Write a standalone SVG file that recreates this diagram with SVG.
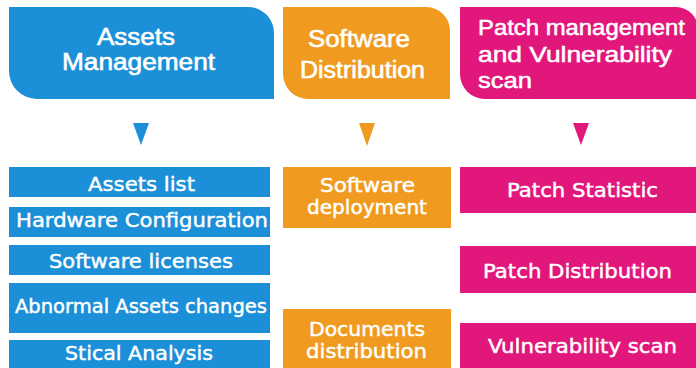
<svg xmlns="http://www.w3.org/2000/svg" width="696" height="368" viewBox="0 0 696 368">
<style>
.blue{fill:#1b8fd7}
.orange{fill:#f09b20}
.pink{fill:#e1177b}
.h{font-family:"Liberation Sans",Arial,sans-serif;fill:#ffffff;stroke:#ffffff;stroke-width:0.6px;font-size:23.5px}
.hp{font-family:"Liberation Sans",Arial,sans-serif;fill:#ffffff;stroke:#ffffff;stroke-width:0.5px;font-size:21.5px}
.b{font-family:"DejaVu Sans",Verdana,sans-serif;fill:#ffffff;stroke:#ffffff;stroke-width:0.45px;font-size:20px;text-anchor:middle}
</style>
<rect width="696" height="368" fill="#ffffff"/>
<g id="assets-management">
<path class="blue" d="M9 7 H248 A26 26 0 0 1 274 33 V99 H37 A28 28 0 0 1 9 71 Z"/>
<text class="h" x="136" y="45" text-anchor="middle" textLength="78" lengthAdjust="spacingAndGlyphs">Assets</text>
<text class="h" x="138.5" y="70" text-anchor="middle" textLength="153" lengthAdjust="spacingAndGlyphs">Management</text>
</g>
<g id="software-distribution">
<path class="orange" d="M283 7 H426 A24 24 0 0 1 450 31 V99 H308 A25 25 0 0 1 283 74 Z"/>
<text class="h" x="359" y="47" text-anchor="middle" textLength="102" lengthAdjust="spacingAndGlyphs">Software</text>
<text class="h" x="362.5" y="78" text-anchor="middle" textLength="125" lengthAdjust="spacingAndGlyphs">Distribution</text>
</g>
<g id="patch-management">
<path class="pink" d="M460 7 H676 A22 22 0 0 1 698 29 V99 H485 A25 25 0 0 1 460 74 Z"/>
<text class="hp" x="478" y="35" textLength="207" lengthAdjust="spacingAndGlyphs">Patch management</text>
<text class="hp" x="478" y="62" textLength="194" lengthAdjust="spacingAndGlyphs">and Vulnerability</text>
<text class="hp" x="478" y="88" textLength="54" lengthAdjust="spacingAndGlyphs">scan</text>
</g>
<g id="connectors">
<polygon class="blue" points="133,123 149,123 141,145"/>
<polygon class="orange" points="359,123 375,123 367,146"/>
<polygon class="pink" points="573,123 589,123 581,145"/>
</g>
<g id="assets-list">
<rect class="blue" x="9" y="167" width="261" height="30"/>
<text class="b" x="141.5" y="190.5" textLength="107" lengthAdjust="spacingAndGlyphs">Assets list</text>
</g>
<g id="hardware-configuration">
<rect class="blue" x="9" y="207" width="261" height="30"/>
<text class="b" x="142" y="226.5" textLength="252" lengthAdjust="spacingAndGlyphs">Hardware Configuration</text>
</g>
<g id="software-licenses">
<rect class="blue" x="9" y="245" width="261" height="30"/>
<text class="b" x="141" y="267.5" textLength="184" lengthAdjust="spacingAndGlyphs">Software licenses</text>
</g>
<g id="abnormal-assets-changes">
<rect class="blue" x="9" y="283" width="261" height="50"/>
<text class="b" x="141" y="313" textLength="252" lengthAdjust="spacingAndGlyphs">Abnormal Assets changes</text>
</g>
<g id="stical-analysis">
<rect class="blue" x="9" y="340" width="261" height="30"/>
<text class="b" x="139" y="360" textLength="148" lengthAdjust="spacingAndGlyphs">Stical Analysis</text>
</g>
<g id="software-deployment">
<rect class="orange" x="283" y="167" width="168" height="61"/>
<text class="b" x="367.5" y="191.5" textLength="95" lengthAdjust="spacingAndGlyphs">Software</text>
<text class="b" x="367" y="214" textLength="120" lengthAdjust="spacingAndGlyphs">deployment</text>
</g>
<g id="documents-distribution">
<rect class="orange" x="283" y="309" width="168" height="61"/>
<text class="b" x="367" y="335.5" textLength="116" lengthAdjust="spacingAndGlyphs">Documents</text>
<text class="b" x="366.5" y="358" textLength="121" lengthAdjust="spacingAndGlyphs">distribution</text>
</g>
<g id="patch-statistic">
<rect class="pink" x="460" y="167" width="238" height="46"/>
<text class="b" x="582.5" y="196.5" textLength="151" lengthAdjust="spacingAndGlyphs">Patch Statistic</text>
</g>
<g id="patch-distribution">
<rect class="pink" x="460" y="246" width="238" height="47"/>
<text class="b" x="577.5" y="278" textLength="189" lengthAdjust="spacingAndGlyphs">Patch Distribution</text>
</g>
<g id="vulnerability-scan">
<rect class="pink" x="460" y="323" width="238" height="47"/>
<text class="b" x="582.5" y="353" textLength="189" lengthAdjust="spacingAndGlyphs">Vulnerability scan</text>
</g>
</svg>
